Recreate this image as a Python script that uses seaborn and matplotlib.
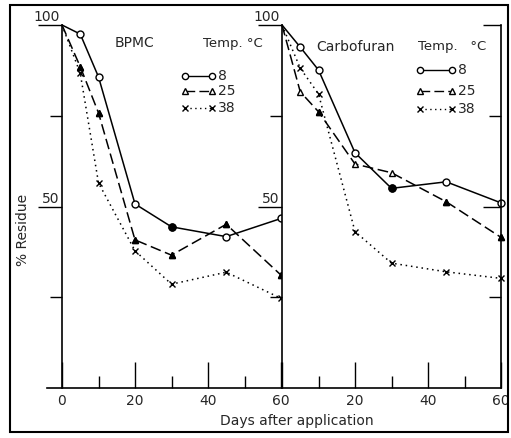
import numpy as np
import pandas as pd
import matplotlib
matplotlib.use("Agg")
import matplotlib.pyplot as plt
import seaborn as sns
from matplotlib.patches import Rectangle

# Datos (% residuo frente a dias)
days = [0, 5, 10, 20, 30, 45, 60]
temps = ["8", "25", "38"]

bpmc_8 = [100, 97.5, 85.7, 50.7, 44.4, 41.7, 46.7]
bpmc_25 = [100, 88.5, 75.8, 40.8, 36.6, 45.1, 31.1]
bpmc_38 = [100, 86.7, 56.5, 37.8, 28.6, 31.9, 24.7]

carbo_8 = [100, 93.9, 87.6, 64.8, 55.0, 56.8, 51.0]
carbo_25 = [100, 81.6, 76.1, 61.7, 59.3, 51.3, 41.5]
carbo_38 = [100, 88.1, 81.0, 43.1, 34.4, 32.0, 30.2]

xticks = [0, 20, 40, 60]
xlabels_left = ["0", "20", "40", "60"]
xlabels_right = ["", "20", "40", "60"]

sns.set_style("white")
plt.rcParams["font.family"] = ["DejaVu Sans"]

styles = {
    "8": dict(ls="-", marker="o", ms=5),
    "25": dict(ls=(0, (7, 3)), marker="^", ms=4.5),
    "38": dict(ls=(0, (1, 2.5)), marker="x", ms=5),
}
# puntos con marcador relleno (indices)
filled = {
    ("BPMC", "8"): [4],
    ("BPMC", "25"): [1, 2, 3, 4, 5, 6],
    ("Carbofuran", "8"): [4],
    ("Carbofuran", "25"): [2, 5, 6],
}

W, H = 511, 438
fig = plt.figure(figsize=(W / 100, H / 100), dpi=100)
ax1 = fig.add_axes([62 / W, 50 / H, 219 / W, 363 / H])
ax2 = fig.add_axes([282 / W, 50 / H, 219 / W, 363 / H])


def draw_panel(ax, name, series):
    df = pd.DataFrame({
        "day": days * len(temps),
        "residue": sum(series, []),
        "temp": np.repeat(temps, len(days)),
    })
    for t in temps:
        sub = df[df["temp"] == t]
        st = styles[t]
        sns.lineplot(data=sub, x="day", y="residue", ax=ax, color="k", lw=1.1,
                     linestyle=st["ls"], marker=st["marker"], markersize=st["ms"],
                     markerfacecolor="white", markeredgecolor="k", markeredgewidth=1.0,
                     markevery=list(range(1, len(days))), clip_on=False,
                     legend=False, errorbar=None)
        idx = filled.get((name, t), [])
        if idx:
            ax.plot(sub["day"].values[idx], sub["residue"].values[idx], ls="none",
                    marker=st["marker"], ms=st["ms"], color="k", clip_on=False)

    ax.set_xlim(0, 60)
    ax.set_ylim(0, 100)
    ax.set_xlabel("")
    ax.set_ylabel("")
    ax.spines["top"].set_visible(False)
    ax.spines["right"].set_visible(False)
    for s in ["left", "bottom"]:
        ax.spines[s].set_linewidth(1.2)
        ax.spines[s].set_color("k")

    ax.set_yticks([50, 100])
    ax.set_yticks([25, 75], minor=True)
    ax.set_xticks(xticks)
    ax.set_xticks([10, 30, 50], minor=True)
    ax.tick_params(axis="y", which="major", direction="out", length=17, width=1.0,
                   labelleft=False, left=True, color="k")
    ax.tick_params(axis="y", which="minor", direction="out", length=8.5, width=1.0,
                   left=True, color="k")
    ax.tick_params(axis="x", which="major", direction="in", length=19, width=1.0,
                   pad=4, labelsize=10, bottom=True, color="k")
    ax.tick_params(axis="x", which="minor", direction="in", length=8.5, width=1.0,
                   bottom=True, color="k")
    for v in [100, 50]:
        ax.annotate(str(v), xy=(0, v), xytext=(-1.5, 0.5), textcoords="offset points",
                    ha="right", va="bottom", fontsize=10, annotation_clip=False)


def draw_key(ax, x0, x1, xt, rows, title, tx, ty):
    ax.text(tx, ty, title, fontsize=9.5, ha="left", va="center")
    for t, y in zip(temps, rows):
        st = styles[t]
        ax.plot([x0, x1], [y, y], color="k", lw=1.0, ls=st["ls"], marker=st["marker"],
                ms=st["ms"] - 0.5, markerfacecolor="white", markeredgecolor="k")
        ax.text(xt, y, t, fontsize=10, ha="left", va="center")


draw_panel(ax1, "BPMC", [bpmc_8, bpmc_25, bpmc_38])
draw_panel(ax2, "Carbofuran", [carbo_8, carbo_25, carbo_38])

ax1.set_xticklabels(xlabels_left)
ax2.set_xticklabels(xlabels_right)
ax1.spines["bottom"].set_bounds(-4, 60)

# eje derecho del segundo panel con marcas hacia dentro
axr = ax2.twinx()
axr.set_ylim(0, 100)
for s in ["top", "left", "bottom"]:
    axr.spines[s].set_visible(False)
axr.spines["right"].set_linewidth(1.2)
axr.spines["right"].set_color("k")
axr.set_yticks([50, 100])
axr.set_yticks([25, 75], minor=True)
axr.tick_params(axis="y", which="major", direction="in", length=13, width=1.0,
                labelright=False, right=True, color="k")
axr.tick_params(axis="y", which="minor", direction="in", length=9, width=1.0,
                right=True, color="k")

ax1.text(20, 95, "BPMC", fontsize=10, ha="center", va="center")
ax2.text(20, 94, "Carbofuran", fontsize=10, ha="center", va="center")
draw_key(ax1, 33.7, 41.1, 42.8, [86.0, 81.8, 77.1], "Temp. °C", 38.6, 95)
draw_key(ax2, 37.8, 46.6, 48.2, [87.6, 81.8, 76.9], "Temp.   °C", 37.3, 94)

fig.text(297 / W, (H - 421) / H, "Days after application", fontsize=10,
         ha="center", va="center")
fig.text(23 / W, (H - 230) / H, "% Residue", fontsize=10, rotation=90,
         ha="center", va="center")

fig.add_artist(Rectangle((10 / W, (H - 432) / H), 498 / W, 427 / H, fill=False,
                         lw=1.5, ec="k", transform=fig.transFigure))

fig.savefig("out.png", dpi=100)
